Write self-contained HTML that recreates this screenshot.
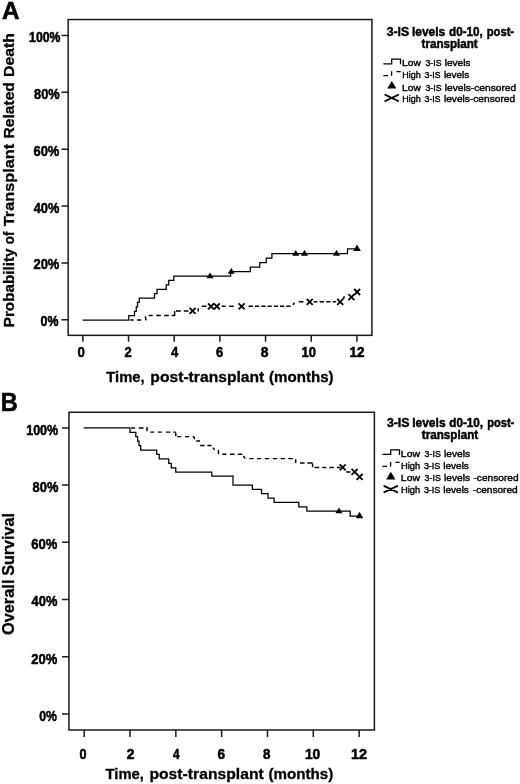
<!DOCTYPE html>
<html><head><meta charset="utf-8"><title>Figure</title>
<style>html,body{margin:0;padding:0;background:#fff;}svg{display:block;will-change:transform;font-family:"Liberation Sans",sans-serif;}</style></head><body>
<svg width="520" height="784" viewBox="0 0 520 784">
<rect width="520" height="784" fill="#fff"/>
<g stroke="#1a1a1a" stroke-width="1.5" fill="none">
<rect x="68.15" y="19.55" width="303.75" height="315.80"/>
<path d="M61.5,35.40H68.15M61.5,92.28H68.15M61.5,149.16H68.15M61.5,206.04H68.15M61.5,262.92H68.15M61.5,319.80H68.15M82.85,335.35V341.65M128.53,335.35V341.65M174.21,335.35V341.65M219.89,335.35V341.65M265.57,335.35V341.65M311.25,335.35V341.65M356.93,335.35V341.65"/>
</g>
<g stroke="#1a1a1a" stroke-width="1.5" fill="none">
<rect x="68.95" y="412.25" width="305.45" height="317.75"/>
<path d="M62.0,427.90H68.95M62.0,485.10H68.95M62.0,542.30H68.95M62.0,599.50H68.95M62.0,656.70H68.95M62.0,713.90H68.95M84.20,730.0V737.00M130.02,730.0V737.00M175.84,730.0V737.00M221.66,730.0V737.00M267.48,730.0V737.00M313.30,730.0V737.00M359.12,730.0V737.00"/>
</g>
<text x="29.10" y="41.90" font-weight="bold" font-size="14.7" textLength="31.34" lengthAdjust="spacingAndGlyphs" stroke="#000" stroke-width="0.55">100%</text>
<text x="34.08" y="98.78" font-weight="bold" font-size="14.7" textLength="25.60" lengthAdjust="spacingAndGlyphs" stroke="#000" stroke-width="0.55">80%</text>
<text x="33.45" y="155.66" font-weight="bold" font-size="14.7" textLength="25.90" lengthAdjust="spacingAndGlyphs" stroke="#000" stroke-width="0.55">60%</text>
<text x="33.70" y="212.54" font-weight="bold" font-size="14.7" textLength="25.65" lengthAdjust="spacingAndGlyphs" stroke="#000" stroke-width="0.55">40%</text>
<text x="33.45" y="269.42" font-weight="bold" font-size="14.7" textLength="25.90" lengthAdjust="spacingAndGlyphs" stroke="#000" stroke-width="0.55">20%</text>
<text x="40.55" y="326.30" font-weight="bold" font-size="14.7" textLength="17.88" lengthAdjust="spacingAndGlyphs" stroke="#000" stroke-width="0.55">0%</text>
<text x="26.20" y="434.70" font-weight="bold" font-size="14.9" textLength="31.99" lengthAdjust="spacingAndGlyphs" stroke="#000" stroke-width="0.55">100%</text>
<text x="32.58" y="491.90" font-weight="bold" font-size="14.9" textLength="25.75" lengthAdjust="spacingAndGlyphs" stroke="#000" stroke-width="0.55">80%</text>
<text x="31.35" y="549.10" font-weight="bold" font-size="14.9" textLength="26.05" lengthAdjust="spacingAndGlyphs" stroke="#000" stroke-width="0.55">60%</text>
<text x="31.60" y="606.30" font-weight="bold" font-size="14.9" textLength="25.80" lengthAdjust="spacingAndGlyphs" stroke="#000" stroke-width="0.55">40%</text>
<text x="31.35" y="663.50" font-weight="bold" font-size="14.9" textLength="26.05" lengthAdjust="spacingAndGlyphs" stroke="#000" stroke-width="0.55">20%</text>
<text x="39.25" y="720.70" font-weight="bold" font-size="14.9" textLength="17.71" lengthAdjust="spacingAndGlyphs" stroke="#000" stroke-width="0.55">0%</text>
<text x="77.45" y="357.40" font-weight="bold" font-size="14.7" textLength="7.37" lengthAdjust="spacingAndGlyphs" stroke="#000" stroke-width="0.55">0</text>
<text x="124.55" y="357.40" font-weight="bold" font-size="14.7" textLength="7.21" lengthAdjust="spacingAndGlyphs" stroke="#000" stroke-width="0.55">2</text>
<text x="170.90" y="357.40" font-weight="bold" font-size="14.7" textLength="7.23" lengthAdjust="spacingAndGlyphs" stroke="#000" stroke-width="0.55">4</text>
<text x="215.95" y="357.40" font-weight="bold" font-size="14.7" textLength="7.21" lengthAdjust="spacingAndGlyphs" stroke="#000" stroke-width="0.55">6</text>
<text x="260.77" y="357.40" font-weight="bold" font-size="14.7" textLength="7.74" lengthAdjust="spacingAndGlyphs" stroke="#000" stroke-width="0.55">8</text>
<text x="301.48" y="357.40" font-weight="bold" font-size="14.7" textLength="14.43" lengthAdjust="spacingAndGlyphs" stroke="#000" stroke-width="0.55">10</text>
<text x="349.57" y="357.40" font-weight="bold" font-size="14.7" textLength="15.11" lengthAdjust="spacingAndGlyphs" stroke="#000" stroke-width="0.55">12</text>
<text x="79.55" y="759.10" font-weight="bold" font-size="14.9" textLength="7.04" lengthAdjust="spacingAndGlyphs" stroke="#000" stroke-width="0.55">0</text>
<text x="126.65" y="759.10" font-weight="bold" font-size="14.9" textLength="7.69" lengthAdjust="spacingAndGlyphs" stroke="#000" stroke-width="0.55">2</text>
<text x="173.10" y="759.10" font-weight="bold" font-size="14.9" textLength="6.55" lengthAdjust="spacingAndGlyphs" stroke="#000" stroke-width="0.55">4</text>
<text x="217.45" y="759.10" font-weight="bold" font-size="14.9" textLength="7.56" lengthAdjust="spacingAndGlyphs" stroke="#000" stroke-width="0.55">6</text>
<text x="262.98" y="759.10" font-weight="bold" font-size="14.9" textLength="7.42" lengthAdjust="spacingAndGlyphs" stroke="#000" stroke-width="0.55">8</text>
<text x="304.88" y="759.10" font-weight="bold" font-size="14.9" textLength="15.43" lengthAdjust="spacingAndGlyphs" stroke="#000" stroke-width="0.55">10</text>
<text x="351.07" y="759.10" font-weight="bold" font-size="14.9" textLength="16.08" lengthAdjust="spacingAndGlyphs" stroke="#000" stroke-width="0.55">12</text>
<text x="106.30" y="381.90" font-weight="bold" font-size="15.4" textLength="38.40" lengthAdjust="spacingAndGlyphs" stroke="#000" stroke-width="0.3">Time,</text>
<text x="150.32" y="381.90" font-weight="bold" font-size="15.4" textLength="114.03" lengthAdjust="spacingAndGlyphs" stroke="#000" stroke-width="0.3">post-transplant</text>
<text x="268.98" y="381.90" font-weight="bold" font-size="15.4" textLength="64.62" lengthAdjust="spacingAndGlyphs" stroke="#000" stroke-width="0.3">(months)</text>
<text x="105.50" y="778.50" font-weight="bold" font-size="15.4" textLength="38.40" lengthAdjust="spacingAndGlyphs" stroke="#000" stroke-width="0.3">Time,</text>
<text x="149.43" y="778.50" font-weight="bold" font-size="15.4" textLength="114.36" lengthAdjust="spacingAndGlyphs" stroke="#000" stroke-width="0.3">post-transplant</text>
<text x="268.48" y="778.50" font-weight="bold" font-size="15.4" textLength="64.78" lengthAdjust="spacingAndGlyphs" stroke="#000" stroke-width="0.3">(months)</text>
<text transform="translate(13.85,327.27) rotate(-90)" font-weight="bold" font-size="15.4" textLength="78.76" lengthAdjust="spacingAndGlyphs" stroke="#000" stroke-width="0.3">Probability</text>
<text transform="translate(13.85,244.28) rotate(-90)" font-weight="bold" font-size="15.4" textLength="12.61" lengthAdjust="spacingAndGlyphs" stroke="#000" stroke-width="0.3">of</text>
<text transform="translate(13.85,226.20) rotate(-90)" font-weight="bold" font-size="15.4" textLength="82.33" lengthAdjust="spacingAndGlyphs" stroke="#000" stroke-width="0.3">Transplant</text>
<text transform="translate(13.85,138.47) rotate(-90)" font-weight="bold" font-size="15.4" textLength="56.33" lengthAdjust="spacingAndGlyphs" stroke="#000" stroke-width="0.3">Related</text>
<text transform="translate(13.85,76.97) rotate(-90)" font-weight="bold" font-size="15.4" textLength="43.87" lengthAdjust="spacingAndGlyphs" stroke="#000" stroke-width="0.3">Death</text>
<text transform="translate(14.20,635.10) rotate(-90)" font-weight="bold" font-size="15.8" textLength="55.54" lengthAdjust="spacingAndGlyphs" stroke="#000" stroke-width="0.3">Overall</text>
<text transform="translate(14.20,575.85) rotate(-90)" font-weight="bold" font-size="15.8" textLength="62.78" lengthAdjust="spacingAndGlyphs" stroke="#000" stroke-width="0.3">Survival</text>
<text x="1.95" y="19.35" font-weight="bold" font-size="24.5" textLength="17.52" lengthAdjust="spacingAndGlyphs" stroke="#000" stroke-width="0.6">A</text>
<text x="0.85" y="410.60" font-weight="bold" font-size="25.2" textLength="16.97" lengthAdjust="spacingAndGlyphs" stroke="#000" stroke-width="0.6">B</text>
<text x="386.70" y="36.40" font-weight="bold" font-size="12.7" textLength="22.43" lengthAdjust="spacingAndGlyphs" stroke="#000" stroke-width="0.5">3-IS</text>
<text x="411.88" y="36.40" font-weight="bold" font-size="12.7" textLength="33.40" lengthAdjust="spacingAndGlyphs" stroke="#000" stroke-width="0.5">levels</text>
<text x="449.05" y="36.40" font-weight="bold" font-size="12.7" textLength="33.77" lengthAdjust="spacingAndGlyphs" stroke="#000" stroke-width="0.5">d0-10,</text>
<text x="486.80" y="36.40" font-weight="bold" font-size="12.7" textLength="27.27" lengthAdjust="spacingAndGlyphs" stroke="#000" stroke-width="0.5">post-</text>
<text x="421.52" y="48.20" font-weight="bold" font-size="12.7" textLength="56.23" lengthAdjust="spacingAndGlyphs" stroke="#000" stroke-width="0.5">transplant</text>
<text x="386.90" y="426.90" font-weight="bold" font-size="12.7" textLength="22.58" lengthAdjust="spacingAndGlyphs" stroke="#000" stroke-width="0.5">3-IS</text>
<text x="412.18" y="426.90" font-weight="bold" font-size="12.7" textLength="33.40" lengthAdjust="spacingAndGlyphs" stroke="#000" stroke-width="0.5">levels</text>
<text x="449.35" y="426.90" font-weight="bold" font-size="12.7" textLength="33.77" lengthAdjust="spacingAndGlyphs" stroke="#000" stroke-width="0.5">d0-10,</text>
<text x="487.20" y="426.90" font-weight="bold" font-size="12.7" textLength="27.10" lengthAdjust="spacingAndGlyphs" stroke="#000" stroke-width="0.5">post-</text>
<text x="421.82" y="439.00" font-weight="bold" font-size="12.7" textLength="56.40" lengthAdjust="spacingAndGlyphs" stroke="#000" stroke-width="0.5">transplant</text>
<text x="402.12" y="66.20" font-weight="normal" font-size="9.6" textLength="18.63" lengthAdjust="spacingAndGlyphs" stroke="#000" stroke-width="0.4">Low</text>
<text x="425.48" y="66.20" font-weight="normal" font-size="9.6" textLength="15.98" lengthAdjust="spacingAndGlyphs" stroke="#000" stroke-width="0.4">3-IS</text>
<text x="444.75" y="66.20" font-weight="normal" font-size="9.6" textLength="25.64" lengthAdjust="spacingAndGlyphs" stroke="#000" stroke-width="0.4">levels</text>
<text x="402.25" y="78.00" font-weight="normal" font-size="9.6" textLength="18.42" lengthAdjust="spacingAndGlyphs" stroke="#000" stroke-width="0.4">High</text>
<text x="424.62" y="78.00" font-weight="normal" font-size="9.6" textLength="15.88" lengthAdjust="spacingAndGlyphs" stroke="#000" stroke-width="0.4">3-IS</text>
<text x="443.90" y="78.00" font-weight="normal" font-size="9.6" textLength="25.32" lengthAdjust="spacingAndGlyphs" stroke="#000" stroke-width="0.4">levels</text>
<text x="402.12" y="90.50" font-weight="normal" font-size="9.6" textLength="18.63" lengthAdjust="spacingAndGlyphs" stroke="#000" stroke-width="0.4">Low</text>
<text x="425.48" y="90.50" font-weight="normal" font-size="9.6" textLength="15.98" lengthAdjust="spacingAndGlyphs" stroke="#000" stroke-width="0.4">3-IS</text>
<text x="444.75" y="90.50" font-weight="normal" font-size="9.6" textLength="71.46" lengthAdjust="spacingAndGlyphs" stroke="#000" stroke-width="0.4">levels-censored</text>
<text x="402.25" y="102.00" font-weight="normal" font-size="9.6" textLength="18.42" lengthAdjust="spacingAndGlyphs" stroke="#000" stroke-width="0.4">High</text>
<text x="424.62" y="102.00" font-weight="normal" font-size="9.6" textLength="15.88" lengthAdjust="spacingAndGlyphs" stroke="#000" stroke-width="0.4">3-IS</text>
<text x="443.90" y="102.00" font-weight="normal" font-size="9.6" textLength="71.19" lengthAdjust="spacingAndGlyphs" stroke="#000" stroke-width="0.4">levels-censored</text>
<text x="400.88" y="456.50" font-weight="normal" font-size="9.6" textLength="19.13" lengthAdjust="spacingAndGlyphs" stroke="#000" stroke-width="0.4">Low</text>
<text x="424.62" y="456.50" font-weight="normal" font-size="9.6" textLength="16.16" lengthAdjust="spacingAndGlyphs" stroke="#000" stroke-width="0.4">3-IS</text>
<text x="444.10" y="456.50" font-weight="normal" font-size="9.6" textLength="25.87" lengthAdjust="spacingAndGlyphs" stroke="#000" stroke-width="0.4">levels</text>
<text x="400.88" y="468.80" font-weight="normal" font-size="9.6" textLength="19.30" lengthAdjust="spacingAndGlyphs" stroke="#000" stroke-width="0.4">High</text>
<text x="423.88" y="468.80" font-weight="normal" font-size="9.6" textLength="16.38" lengthAdjust="spacingAndGlyphs" stroke="#000" stroke-width="0.4">3-IS</text>
<text x="443.25" y="468.80" font-weight="normal" font-size="9.6" textLength="25.64" lengthAdjust="spacingAndGlyphs" stroke="#000" stroke-width="0.4">levels</text>
<text x="400.88" y="481.20" font-weight="normal" font-size="9.6" textLength="19.13" lengthAdjust="spacingAndGlyphs" stroke="#000" stroke-width="0.4">Low</text>
<text x="424.62" y="481.20" font-weight="normal" font-size="9.6" textLength="16.16" lengthAdjust="spacingAndGlyphs" stroke="#000" stroke-width="0.4">3-IS</text>
<text x="444.10" y="481.20" font-weight="normal" font-size="9.6" textLength="25.87" lengthAdjust="spacingAndGlyphs" stroke="#000" stroke-width="0.4">levels</text>
<text x="473.50" y="481.20" font-weight="normal" font-size="9.6" textLength="45.04" lengthAdjust="spacingAndGlyphs" stroke="#000" stroke-width="0.4">-censored</text>
<text x="400.88" y="493.20" font-weight="normal" font-size="9.6" textLength="19.30" lengthAdjust="spacingAndGlyphs" stroke="#000" stroke-width="0.4">High</text>
<text x="423.88" y="493.20" font-weight="normal" font-size="9.6" textLength="16.38" lengthAdjust="spacingAndGlyphs" stroke="#000" stroke-width="0.4">3-IS</text>
<text x="443.25" y="493.20" font-weight="normal" font-size="9.6" textLength="25.64" lengthAdjust="spacingAndGlyphs" stroke="#000" stroke-width="0.4">levels</text>
<text x="472.85" y="493.20" font-weight="normal" font-size="9.6" textLength="44.86" lengthAdjust="spacingAndGlyphs" stroke="#000" stroke-width="0.4">-censored</text>
<path stroke="#000" stroke-width="1.25" fill="none" transform="translate(0,0.3)" d="M82.6,319.7 H128.75 V315.35 H134.5 V310.95 H136.25 V306.55 H137.5 V302.15 H139.25 V297.75 H154.5 V293.35 H157 V288.95 H166.25 V284.55 H168.75 V280.15 H173.75 V275.75 H230.6 V271.3 H250.3 V266.8 H259.75 V262.4 H266.25 V257.9 H271.9 V253.3 H347.5 V248.5 H357"/>
<path stroke="#000" stroke-width="1.45" fill="none" d="M130.2,319.9H133.7M137.1,319.9H141.2M148.7,315.4H152.7M156.2,315.4H160.8M164.2,315.4H168.8M171.7,315.4H174.6M176.0,310.9H180.8M183.8,310.9H188.5M201.8,306.3H206.5M221.8,306.3H225.7M229.2,306.3H233.8M248.6,306.3H252.9M255.0,306.3H259.3M261.3,306.3H265.6M267.5,306.3H271.8M273.8,306.3H278.1M280.0,306.3H284.3M286.3,306.3H290.6M298.8,301.8H303.5M313.5,301.8H317.3M319.6,301.8H324.0M326.3,301.8H330.4M332.7,301.8H336.2M145.9,320.3L145.4,316.3M174.6,316.1V311.0M198.2,311.4V308.3M293.2,305.0L294.3,302.6M343.4,299.0L344.4,296.2"/>
<g fill="#000">
<path d="M206.45,278.15 L210.00,272.40 L213.55,278.15 Z"/>
<path d="M227.75,273.70 L231.30,267.95 L234.85,273.70 Z"/>
<path d="M292.20,255.70 L295.75,249.95 L299.30,255.70 Z"/>
<path d="M300.95,255.70 L304.50,249.95 L308.05,255.70 Z"/>
<path d="M332.95,255.70 L336.50,249.95 L340.05,255.70 Z"/>
<path d="M353.20,251.00 L357.00,244.60 L360.80,251.00 Z"/>
<path d="M355.70,518.20 L359.50,511.80 L363.30,518.20 Z"/>
<path d="M335.45,513.30 L339.00,507.55 L342.55,513.30 Z"/>
</g>
<g stroke="#000" stroke-width="1.8" fill="none">
<path d="M189.60,307.90 L195.60,313.90 M189.60,313.90 L195.60,307.90"/>
<path d="M208.00,303.30 L214.00,309.30 M208.00,309.30 L214.00,303.30"/>
<path d="M213.80,303.30 L219.80,309.30 M213.80,309.30 L219.80,303.30"/>
<path d="M238.60,303.30 L244.60,309.30 M238.60,309.30 L244.60,303.30"/>
<path d="M306.70,298.80 L312.70,304.80 M306.70,304.80 L312.70,298.80"/>
<path d="M337.20,298.80 L343.20,304.80 M337.20,304.80 L343.20,298.80"/>
<path d="M348.40,294.10 L354.40,300.10 M348.40,300.10 L354.40,294.10"/>
<path d="M354.10,289.00 L360.10,295.00 M354.10,295.00 L360.10,289.00"/>
<path d="M339.70,464.30 L345.70,470.30 M339.70,470.30 L345.70,464.30"/>
<path d="M351.60,468.80 L357.60,474.80 M351.60,474.80 L357.60,468.80"/>
<path d="M356.60,473.80 L362.60,479.80 M356.60,479.80 L362.60,473.80"/>
</g>
<path stroke="#000" stroke-width="1.25" fill="none" d="M83.6,427.9 H130 V432.3 H135.8 V436.65 H137.6 V441.1 H139.0 V445.55 H140.7 V450 H156.7 V454.45 H159.25 V458.9 H168.75 V463.35 H171.25 V467.8 H175.75 V472 H211.8 V476.2 H233 V485 H252.4 V489.4 H261.5 V493.7 H268 V498 H274.1 V502.3 H298.8 V506.8 H306.85 V511.2 H350.2 V516 H359.5"/>
<path stroke="#000" stroke-width="1.45" fill="none" d="M131.2,427.9H135.0M138.8,427.9H143.5M150.4,432.1H154.2M157.8,432.1H161.9M165.8,432.1H170.4M173.2,432.1H175.8M177.3,436.6H181.2M185.0,436.6H189.3M192.7,436.6H194.4M196.2,440.9H200.0M200.2,445.4H204.6M207.4,445.4H211.5M222.3,454.3H226.5M230.0,454.3H234.6M237.7,454.3H242.3M249.4,458.6H253.6M257.0,458.6H261.2M264.8,458.6H269.2M272.8,458.6H277.2M280.6,458.6H285.0M288.2,458.6H292.8M300.0,463.0H304.6M307.4,463.0H312.6M314.6,467.4H319.2M322.3,467.4H326.4M329.4,467.4H333.8M336.9,467.4H340.5M346.3,472.0H350.5M147.0,426.9V431.3M175.8,432.8V436.3M193.8,437.0L194.8,439.2M213.0,447.8L214.6,449.7M218.5,449.7V454.3M243.3,455.8L245.2,458.5M295.7,459.2V463.1M312.6,463.7V467.2"/>
<path stroke="#000" stroke-width="1.25" fill="none" d="M383.40,63.80 H391.70 V59.20 H400.50 V64.30"/>
<path stroke="#000" stroke-width="1.25" fill="none" d="M383.40,75.60 H388.00 M391.60,75.80 V71.20 M396.40,71.50 H400.70"/>
<path d="M387.20,88.50 L391.80,80.90 L396.40,88.50 Z" fill="#000"/>
<path stroke="#000" stroke-width="1.9" stroke-linecap="round" fill="none" d="M385.35,94.90 L398.15,101.00 M385.35,101.00 L398.15,94.90"/>
<path stroke="#000" stroke-width="1.25" fill="none" d="M382.40,454.40 H390.70 V449.80 H399.50 V454.90"/>
<path stroke="#000" stroke-width="1.25" fill="none" d="M382.40,466.40 H387.00 M390.60,466.60 V462.00 M395.40,462.30 H399.70"/>
<path d="M386.20,479.40 L390.80,471.80 L395.40,479.40 Z" fill="#000"/>
<path stroke="#000" stroke-width="1.9" stroke-linecap="round" fill="none" d="M384.35,486.10 L397.15,492.20 M384.35,492.20 L397.15,486.10"/>
</svg></body></html>
